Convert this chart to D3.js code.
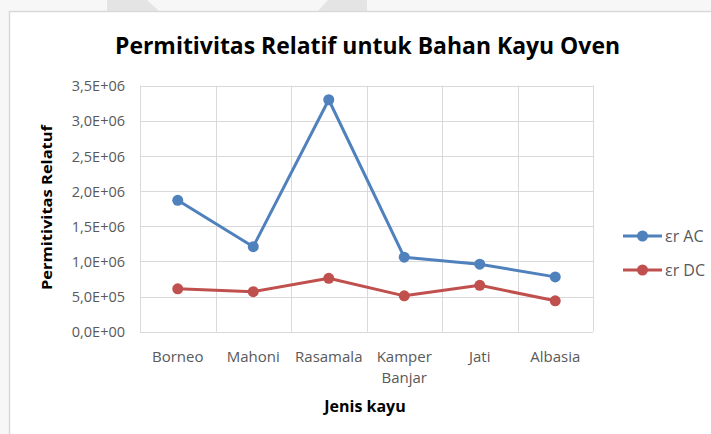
<!DOCTYPE html>
<html><head><meta charset="utf-8">
<script src="https://cdn.jsdelivr.net/npm/d3@7"></script>
<style>body{margin:0;background:#fff}svg{display:block}</style>
</head><body>
<svg id="c" width="711" height="434"></svg>
<script>
const categories = ["Borneo", "Mahoni", "Rasamala", "Kamper Banjar", "Jati", "Albasia"];
const acValues = [1.87e6, 1.21e6, 3.30e6, 1.06e6, 0.96e6, 0.78e6];
const dcValues = [0.61e6, 0.57e6, 0.76e6, 0.51e6, 0.66e6, 0.44e6];
const seriesNames = ["εr AC", "εr DC"];
const yTicks = [0, 0.5e6, 1.0e6, 1.5e6, 2.0e6, 2.5e6, 3.0e6, 3.5e6];
const colors = ["#4F81BD", "#C0504D"];

const svg = d3.select("#c");
const font = "'Open Sans', sans-serif";

// page background / watermark
svg.append("rect").attr("width",711).attr("height",434).attr("fill","#f7f7f7");
svg.append("polygon").attr("points","107,0 147,0 160,12 107,12").attr("fill","#e4e4e4");
svg.append("polygon").attr("points","328,0 367,0 367,12 317,12").attr("fill","#e4e4e4");
// chart frame
svg.append("rect").attr("x",9.5).attr("y",11.5).attr("width",720).attr("height",440)
  .attr("fill","#fff").attr("stroke","#d9d9d9").attr("stroke-width",1.5);

const L=140, R=593, T=85.7, B=331.7;
const x = d3.scaleBand().domain(categories).range([L,R]);
const y = d3.scaleLinear().domain([0,3.5e6]).range([B,T]);

// horizontal gridlines
svg.append("g").selectAll("line").data(yTicks).join("line")
  .attr("x1",L).attr("x2",R).attr("y1",d=>Math.round(y(d))+0.5).attr("y2",d=>Math.round(y(d))+0.5)
  .attr("stroke","#d9d9d9").attr("stroke-width",1);
// vertical gridlines at category boundaries
const bounds = categories.map(c=>x(c)).concat([R]);
svg.append("g").selectAll("line").data(bounds).join("line")
  .attr("x1",d=>Math.round(d)+0.5).attr("x2",d=>Math.round(d)+0.5).attr("y1",T).attr("y2",B)
  .attr("stroke","#d9d9d9").attr("stroke-width",1);

// y axis labels
const fmt = d=>{ const s=d3.format(".1e")(d); const [m,e]=s.split("e"); const ex=+e; return m.replace(".",",")+"E"+(ex<0?"-":"+")+String(Math.abs(ex)).padStart(2,"0"); };
const yAxis = d3.axisLeft(y).tickValues(yTicks).tickFormat(fmt).tickSize(0).tickPadding(0);
const ga = svg.append("g").attr("transform",`translate(${125},0)`).call(yAxis);
ga.select(".domain").remove();
ga.selectAll("text").attr("font-family",font).attr("font-size",14.5).attr("fill","#595959").attr("dy","0.35em");

// x labels
const xAxis = d3.axisBottom(x).tickSize(0).tickPadding(0);
const gx = svg.append("g").attr("transform",`translate(0,${B})`).call(xAxis);
gx.select(".domain").remove();
gx.selectAll("text").text(null).attr("font-family",font).attr("font-size",15).attr("fill","#595959")
  .attr("y",0).attr("dy",0)
  .each(function(d){
    const words = d.split(" ");
    const t = d3.select(this);
    words.forEach((w,i)=>t.append("tspan").attr("x",0).attr("y",30+i*21.5).text(w));
  });

// lines
const series = [acValues, dcValues];
const line = d3.line().x((d,i)=>x(categories[i])+x.bandwidth()/2).y(d=>y(d));
series.forEach((vals,si)=>{
  svg.append("path").datum(vals).attr("d",line).attr("fill","none")
    .attr("stroke",colors[si]).attr("stroke-width",3).attr("stroke-linejoin","round");
  svg.append("g").selectAll("circle").data(vals).join("circle")
    .attr("cx",(d,i)=>x(categories[i])+x.bandwidth()/2).attr("cy",d=>y(d)).attr("r",5.5)
    .attr("fill",colors[si]);
});

// title
svg.append("text").attr("x",367.5).attr("y",54).attr("text-anchor","middle")
  .attr("font-family",font).attr("font-weight","bold").attr("font-size",23).attr("fill","#000")
  .attr("textLength",505).attr("lengthAdjust","spacingAndGlyphs")
  .text("Permitivitas Relatif untuk Bahan Kayu Oven");
// y title
svg.append("text").attr("transform","translate(52,207.5) rotate(-90)").attr("text-anchor","middle")
  .attr("font-family",font).attr("font-weight","bold").attr("font-size",15).attr("fill","#000")
  .attr("textLength",165).attr("lengthAdjust","spacingAndGlyphs")
  .text("Permitivitas Relatuf");
// x title
svg.append("text").attr("x",365).attr("y",412).attr("text-anchor","middle")
  .attr("font-family",font).attr("font-weight","bold").attr("font-size",16).attr("fill","#000")
  .text("Jenis kayu");

// legend
const lg = svg.append("g").selectAll("g").data(seriesNames).join("g")
  .attr("transform",(d,i)=>`translate(623,${236+i*34})`);
lg.append("line").attr("x1",0).attr("x2",39).attr("stroke",(d,i)=>colors[i]).attr("stroke-width",3);
lg.append("circle").attr("cx",19.5).attr("r",5.5).attr("fill",(d,i)=>colors[i]);
lg.append("text").attr("x",42).attr("dy","0.35em").attr("font-family",font).attr("font-size",16)
  .attr("fill","#595959").text(d=>d);
</script>
</body></html>
